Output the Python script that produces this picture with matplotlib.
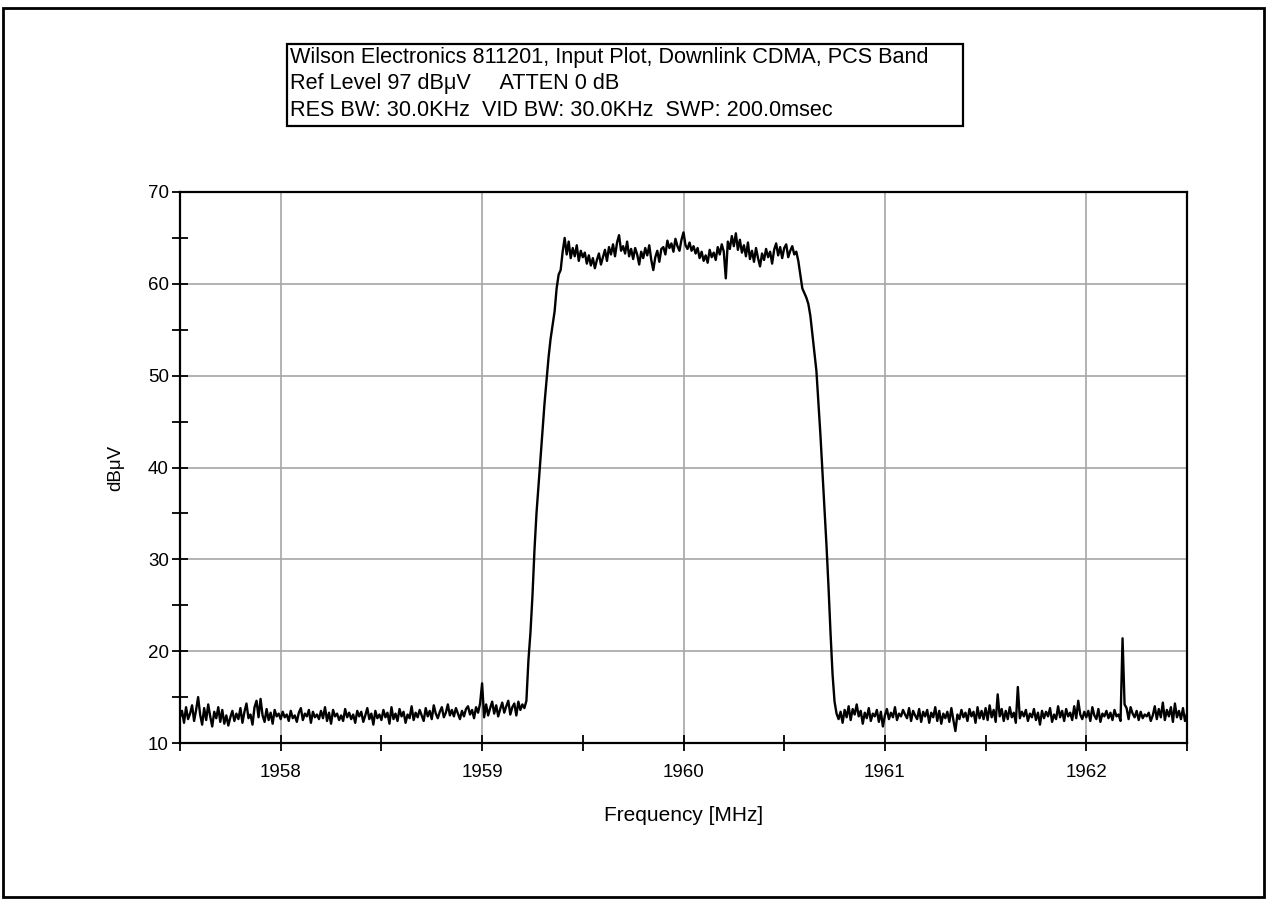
import numpy as np
import matplotlib
matplotlib.use("Agg")
import matplotlib.pyplot as plt
from matplotlib.patches import Rectangle

plt.rcParams['font.family'] = ['Liberation Sans', 'DejaVu Sans']

# ---- data (dBuV), sweep 1957.5 .. 1962.5 MHz, 0.01 MHz steps ----
floor_low = [
    12.8, 13.5, 12.2, 13.9, 12.6, 13.2, 14.1, 12.4, 13.6, 15.0,
    13.1, 12.0, 13.8, 12.5, 14.2, 12.9, 11.8, 13.4, 12.7, 13.9,
    12.3, 13.6, 12.1, 13.0, 11.9, 12.8, 13.5, 12.4, 13.2, 12.6,
    13.8, 12.2, 13.4, 14.3, 12.7, 13.1, 12.0, 13.9, 14.6, 12.8,
    14.8, 13.0, 12.3, 13.7, 12.5, 13.3, 12.1, 13.6, 12.9, 13.2,
    12.6, 13.4, 12.8, 13.1, 12.4, 13.5, 12.7, 13.0, 12.3, 13.3,
    13.8, 12.5, 13.2, 12.9, 13.6, 12.2, 13.4, 12.8, 13.1, 12.6,
    13.5, 12.7, 13.9, 12.4, 13.3, 12.1, 13.6, 12.9, 13.2, 12.5,
    13.0, 12.4, 13.7, 12.8, 13.3, 12.6, 13.1, 12.2, 13.5, 12.9,
    13.4, 12.3, 13.0, 13.8, 12.6, 13.2, 12.0, 13.5, 12.7, 13.1,
    12.5, 13.6, 12.8, 13.3, 12.1, 13.9, 12.6, 13.2, 12.4, 13.7,
    12.9, 13.4, 12.2, 13.1, 12.7, 14.0, 12.5, 13.3, 12.8, 13.6,
    13.0, 12.4, 13.8, 12.9, 13.5, 12.6, 14.1, 13.2, 12.7, 13.4,
    13.9, 12.8, 13.3, 14.2, 13.0, 13.6, 12.9, 13.8, 13.2, 12.6,
    13.5, 12.9, 13.7, 14.0, 13.1, 13.6, 12.7, 13.9, 13.3, 14.3,
    16.5, 12.8, 14.2, 13.0, 13.8, 14.5, 13.2, 14.1, 12.9, 13.7,
    14.4, 13.3, 14.0, 14.6, 13.1, 13.9, 14.3, 13.0, 14.5, 13.6,
    14.2, 13.8, 14.6,
]
rise = [19, 22, 26, 31, 35, 38, 41, 44, 47, 49.5,
        52, 54, 55.5, 57, 59.5, 61, 61.5, 63.5, 65.0]
plateau = [
    63.2, 64.6, 62.8, 63.9, 63.0, 64.2, 62.5, 63.6,
    62.9, 63.4, 62.2, 63.1, 62.0, 62.8, 61.7, 62.6, 63.3, 62.1,
    62.9, 63.7, 62.5, 64.0, 63.2, 64.3, 63.0, 64.5, 65.3, 63.6,
    64.1, 63.3, 64.6, 63.0, 63.8, 62.7, 63.9, 63.2, 62.1, 63.5,
    62.8, 63.9, 63.1, 64.2, 62.6, 61.5, 62.9, 63.6, 62.4, 63.8,
    64.0, 63.2, 64.7, 63.9, 64.4, 63.5, 64.9, 64.1, 63.6, 64.8,
    65.6, 64.2, 63.8, 64.5, 63.6, 64.1, 63.3, 63.9, 62.8, 63.5,
    62.5, 63.1, 62.3, 63.7, 62.9, 63.4, 62.6, 64.0, 63.2, 64.3,
    63.5, 60.6, 64.6, 63.8, 65.2, 64.1, 65.5, 63.7, 64.8, 63.4,
    64.2, 63.0, 64.5, 62.7, 63.6, 62.4, 63.9, 62.8, 61.9, 63.3,
    62.6, 63.8, 62.9, 63.5, 62.2, 63.7, 64.4, 63.1, 64.0, 62.8,
    63.9, 64.3, 62.9, 63.6, 64.1, 63.2, 63.5,
]
fall = [62.5, 61, 59.5, 59.0, 58.5, 57.8, 56.5, 54.5, 52.5, 50.5,
        47, 43.5, 39.5, 35.5, 31.5, 27, 22, 17.5, 14.5, 13.2]
floor_high = [
    12.6, 13.4, 12.2,
    13.6, 12.8, 14.0, 12.5, 13.7, 13.1, 14.2, 12.9, 13.5, 12.1,
    13.3, 12.7, 13.8, 12.4, 13.2, 12.9, 13.6, 12.3, 13.4, 11.8,
    13.0, 13.7, 12.6, 13.3, 12.8, 13.9, 12.5, 13.2, 12.9, 13.6,
    13.1, 12.7, 13.8, 12.4, 13.5, 13.0, 12.6, 13.7, 12.3, 13.4,
    12.9, 13.6, 12.2, 13.3, 12.8, 13.9, 12.4, 13.5, 12.1, 13.2,
    12.7, 13.4, 12.3, 13.8, 12.5, 11.3, 13.1, 12.6, 13.6, 12.8,
    13.3, 12.4, 13.7, 12.9, 13.4, 12.2, 13.9, 12.7, 13.5, 12.6,
    13.8, 12.5, 14.1, 12.8, 13.6, 12.3, 15.3, 12.9, 13.7, 12.4,
    13.5, 12.6, 13.9, 12.8, 13.3, 12.2, 16.1, 12.7, 13.4, 12.9,
    13.6, 12.4, 13.2, 12.8, 13.7, 12.5, 13.3, 12.0, 13.5, 12.7,
    13.4, 12.9, 13.8, 12.3, 13.1, 12.6, 14.0, 12.8, 13.5, 12.4,
    13.7, 12.9, 13.3, 12.5, 14.0, 12.7, 14.6, 13.1, 12.6, 13.4,
    12.8, 13.5, 12.4, 13.9, 13.0, 12.6, 13.7, 12.3, 13.2, 12.9,
    13.5, 12.7, 13.3, 12.5, 13.6, 12.9, 13.1, 12.4, 21.4, 14.2,
    13.8, 12.6, 13.9, 13.2, 12.8, 13.5, 12.5, 13.4, 12.7, 13.1,
    12.9, 13.3, 12.4, 13.0, 14.0, 12.6, 13.7, 12.8, 14.4, 12.5,
    13.6, 12.9, 13.9, 12.3, 14.3, 12.8, 13.5, 12.6, 13.8, 12.4, 13.2,
]
level = np.array(floor_low + rise + plateau + fall + floor_high)
f_start, f_stop = 1957.5, 1962.5
freq = np.linspace(f_start, f_stop, len(level))

x_major = [1958, 1959, 1960, 1961, 1962]
y_major = [10, 20, 30, 40, 50, 60, 70]

title_lines = [
    "Wilson Electronics 811201, Input Plot, Downlink CDMA, PCS Band",
    "Ref Level 97 dB\u03bcV     ATTEN 0 dB",
    "RES BW: 30.0KHz  VID BW: 30.0KHz  SWP: 200.0msec",
]

W, H = 1267, 900
fig = plt.figure(figsize=(W / 100, H / 100), dpi=100)
fig.patch.set_facecolor('white')

# outer frame
fig.patches.append(Rectangle((3 / W, 3 / H), (W - 6) / W, (H - 11) / H,
                             transform=fig.transFigure, fill=False,
                             edgecolor='black', linewidth=2))

# title box
fig.patches.append(Rectangle((287 / W, 1 - 126 / H), (963 - 287) / W, (126 - 44) / H,
                             transform=fig.transFigure, fill=False,
                             edgecolor='black', linewidth=1.6))
for k, line in enumerate(title_lines):
    fig.text(290 / W, 1 - (57 + 26.5 * k) / H, line, fontsize=15.6,
             ha='left', va='center', color='black')

ax = fig.add_axes([180 / W, 1 - 743 / H, (1187 - 180) / W, (743 - 192) / H])
ax.plot(freq, level, color='black', linewidth=1.7)

ax.set_xlim(f_start, f_stop)
ax.set_ylim(10, 70)
ax.set_xticks(x_major)
ax.set_xticks(np.arange(1957.5, 1962.51, 0.5), minor=True)
ax.set_yticks(y_major)
ax.set_yticks(np.arange(10, 70.1, 5), minor=True)
ax.grid(True, which='major', color='#a6a6a6', linewidth=1.2)
ax.set_axisbelow(True)
ax.tick_params(which='both', direction='inout', length=12, width=1.3,
               labelsize=13.5, colors='black')
ax.tick_params(axis='y', pad=2)
ax.tick_params(axis='x', pad=9)
for s in ax.spines.values():
    s.set_linewidth(1.6)
    s.set_color('black')

ax.set_xlabel("Frequency [MHz]", fontsize=15, labelpad=18)
ax.set_ylabel("dB\u03bcV", fontsize=13.5, labelpad=17)

fig.savefig("out.png", dpi=100, facecolor='white')
